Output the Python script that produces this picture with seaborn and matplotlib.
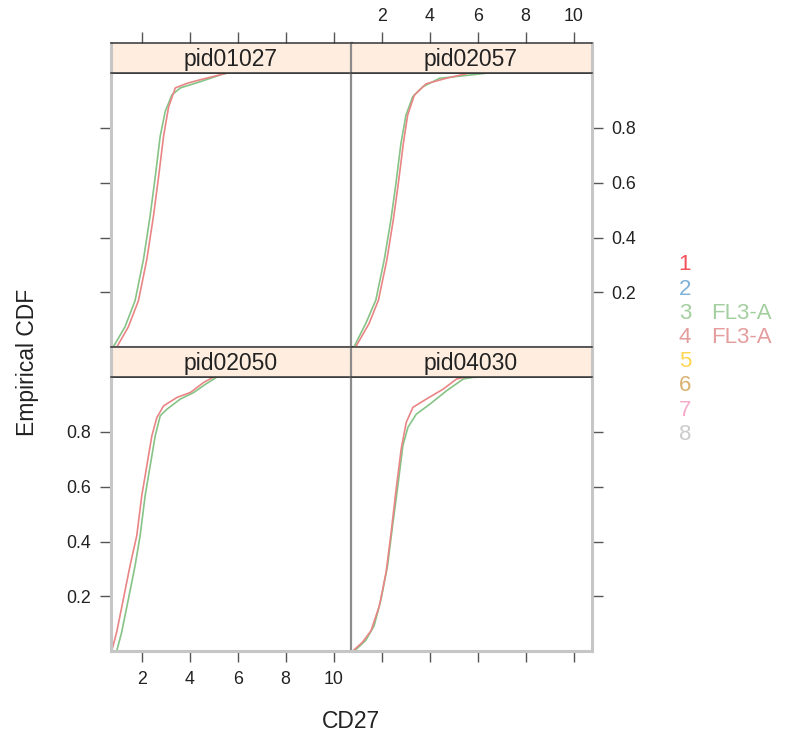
import matplotlib
matplotlib.use("Agg")
import matplotlib.pyplot as plt
import numpy as np
import pandas as pd
import seaborn as sns

# ---- data: empirical CDF of CD27 (FL3-A) for groups 3 and 4 per patient ----
panels = ["pid01027", "pid02057", "pid02050", "pid04030"]
groups = ["3", "4"]
channel = "FL3-A"

pid01027_g3_x = [0.80, 1.30, 1.72, 2.07, 2.35, 2.56, 2.77, 2.98, 3.26, 3.61, 4.45, 5.37, 5.60]
pid01027_g3_p = [0.00, 0.075, 0.17, 0.32, 0.48, 0.62, 0.77, 0.86, 0.92, 0.945, 0.968, 0.995, 1.00]
pid01027_g4_x = [0.95, 1.44, 1.86, 2.21, 2.49, 2.70, 2.91, 3.12, 3.40, 3.90, 4.45, 5.37, 5.60]
pid01027_g4_p = [0.00, 0.075, 0.17, 0.32, 0.48, 0.62, 0.77, 0.876, 0.945, 0.962, 0.975, 0.995, 1.00]

pid02057_g3_x = [0.83, 1.33, 1.75, 2.10, 2.38, 2.59, 2.80, 3.01, 3.29, 3.71, 4.41, 5.81, 6.50]
pid02057_g3_p = [0.00, 0.087, 0.172, 0.318, 0.464, 0.597, 0.743, 0.846, 0.913, 0.949, 0.980, 0.993, 1.00]
pid02057_g4_x = [0.90, 1.47, 1.86, 2.21, 2.48, 2.69, 2.90, 3.08, 3.36, 3.85, 4.69, 5.54, 5.70]
pid02057_g4_p = [0.00, 0.087, 0.172, 0.318, 0.464, 0.597, 0.743, 0.846, 0.919, 0.960, 0.980, 0.997, 1.00]

pid02050_g3_x = [0.95, 1.16, 1.44, 1.72, 1.93, 2.14, 2.35, 2.56, 2.77, 3.05, 3.61, 4.17, 4.66, 5.15]
pid02050_g3_p = [0.00, 0.069, 0.19, 0.312, 0.421, 0.567, 0.676, 0.785, 0.858, 0.882, 0.919, 0.943, 0.973, 1.00]
pid02050_g4_x = [0.74, 0.95, 1.23, 1.51, 1.79, 2.00, 2.21, 2.42, 2.63, 2.91, 3.47, 4.03, 4.59, 5.01]
pid02050_g4_p = [0.00, 0.069, 0.19, 0.312, 0.421, 0.567, 0.676, 0.785, 0.852, 0.894, 0.925, 0.943, 0.980, 1.00]

pid04030_g3_x = [0.84, 1.33, 1.68, 1.97, 2.24, 2.45, 2.67, 2.88, 3.09, 3.44, 4.00, 4.70, 5.40, 5.82, 6.50]
pid04030_g3_p = [0.00, 0.040, 0.093, 0.19, 0.312, 0.457, 0.603, 0.749, 0.816, 0.864, 0.900, 0.949, 0.992, 0.998, 1.00]
pid04030_g4_x = [0.77, 1.19, 1.55, 1.90, 2.18, 2.39, 2.60, 2.81, 3.02, 3.30, 3.86, 4.56, 5.12, 5.55]
pid04030_g4_p = [0.00, 0.033, 0.075, 0.166, 0.288, 0.433, 0.591, 0.737, 0.834, 0.889, 0.919, 0.955, 0.992, 1.00]

curves = {
    ("pid01027", "3"): (pid01027_g3_x, pid01027_g3_p),
    ("pid01027", "4"): (pid01027_g4_x, pid01027_g4_p),
    ("pid02057", "3"): (pid02057_g3_x, pid02057_g3_p),
    ("pid02057", "4"): (pid02057_g4_x, pid02057_g4_p),
    ("pid02050", "3"): (pid02050_g3_x, pid02050_g3_p),
    ("pid02050", "4"): (pid02050_g4_x, pid02050_g4_p),
    ("pid04030", "3"): (pid04030_g3_x, pid04030_g3_p),
    ("pid04030", "4"): (pid04030_g4_x, pid04030_g4_p),
}

x_ticks = [2, 4, 6, 8, 10]
y_ticks = [0.2, 0.4, 0.6, 0.8]
key_labels = ["1", "2", "3", "4", "5", "6", "7", "8"]
key_colors = ["#F2505A", "#7FB2D8", "#A3CF9F", "#E59C9C", "#FFD64F", "#D9B16F", "#F6A9C9", "#CBCBCB"]
line_colors = {"3": "#86C386", "4": "#E98585"}

rows = []
for (pid, grp), (xs, ps) in curves.items():
    for i, (xv, pv) in enumerate(zip(xs, ps)):
        rows.append({"panel": pid, "group": grp, "order": i, "CD27": xv, "ecdf": pv})
df = pd.DataFrame(rows)

# ---- figure and lattice-like layout ----
sns.set_style("white")
plt.rcParams["font.family"] = ["Liberation Sans", "DejaVu Sans"]

W, H = 794, 737
fig = plt.figure(figsize=(W / 100, H / 100), dpi=100)


def box(left, top, w, h):
    return [left / W, (H - top - h) / H, w / W, h / H]


col_left = [110.5, 350.5]
col_w = 241.0
strip_h = 29.5
panel_h = 274.6
row_strip_top = [43.3, 347.3]

frame_light = "#C6C6C6"
frame_dark = "#8C8C8C"
tick_col = "#555555"
txt_col = "#222222"
fs_tick = 12.8
fs_strip = 16.5
fs_key = 16.0

xlim = (0.695, 10.75)
ylim = (0.0, 1.0)

for idx, pid in enumerate(panels):
    r, c = divmod(idx, 2)
    st = row_strip_top[r]
    ax = fig.add_axes(box(col_left[c], st + strip_h, col_w, panel_h))
    sax = fig.add_axes(box(col_left[c], st, col_w, strip_h), sharex=ax)

    sub = df[df["panel"] == pid]
    sns.lineplot(data=sub, x="CD27", y="ecdf", hue="group", units="group",
                 estimator=None, sort=False, palette=line_colors,
                 linewidth=1.2, legend=False, ax=ax)
    ax.set_xlim(*xlim)
    ax.set_ylim(*ylim)
    ax.set_xlabel("")
    ax.set_ylabel("")
    ax.set_xticks(x_ticks)
    ax.set_yticks(y_ticks)

    # frame: light outer edges, darker divider between columns
    for side in ["left", "right", "top", "bottom"]:
        ax.spines[side].set_color(frame_light)
        ax.spines[side].set_linewidth(2.2)
    inner = "right" if c == 0 else "left"
    ax.spines[inner].set_color(frame_dark)
    ax.spines[inner].set_linewidth(1.6)
    ax.spines["top"].set_color("#333333")
    ax.spines["top"].set_linewidth(1.1)

    ax.tick_params(direction="out", length=8, width=1, color=tick_col,
                   labelsize=fs_tick, labelcolor=txt_col, pad=6)
    ax.tick_params(axis="x", top=False, bottom=(r == 1), labelbottom=(r == 1 and c == 0))
    ax.tick_params(axis="y", left=(c == 0), right=(c == 1),
                   labelleft=(r == 1 and c == 0), labelright=(r == 0 and c == 1))
    if r == 1 and c == 1:
        ax.tick_params(axis="x", labelbottom=False)

    # strip header
    sax.set_facecolor("#FFEEDF")
    sax.set_ylim(0, 1)
    sax.set_yticks([])
    for side in ["left", "right"]:
        sax.spines[side].set_color(frame_light if side != inner else frame_dark)
        sax.spines[side].set_linewidth(2.2 if side != inner else 1.6)
    for side in ["top", "bottom"]:
        sax.spines[side].set_color("#333333")
        sax.spines[side].set_linewidth(1.1)
    sax.tick_params(axis="x", direction="out", length=8, width=1, color=tick_col,
                    labelsize=fs_tick, labelcolor=txt_col, pad=5,
                    bottom=False, labelbottom=False,
                    top=(r == 0), labeltop=(r == 0 and c == 1))
    sax.text(0.5, 0.45, pid, transform=sax.transAxes, ha="center", va="center",
             fontsize=fs_strip, color=txt_col)

# axis titles
fig.text(28 / W, 1 - 362 / H, "Empirical CDF", rotation=90, ha="center", va="center",
         fontsize=fs_strip, color=txt_col)
fig.text(351 / W, 1 - 722 / H, "CD27", ha="center", va="center",
         fontsize=fs_strip, color=txt_col)

# key on the right
key_y0, key_dy = 265, 24.2
for i, (lab, colr) in enumerate(zip(key_labels, key_colors)):
    yy = 1 - (key_y0 + i * key_dy) / H
    fig.text(685 / W, yy, lab, ha="center", va="center", fontsize=fs_key, color=colr)
    if lab in groups:
        fig.text(711 / W, yy, channel, ha="left", va="center", fontsize=fs_key, color=colr)

fig.savefig("out.png", dpi=100)
